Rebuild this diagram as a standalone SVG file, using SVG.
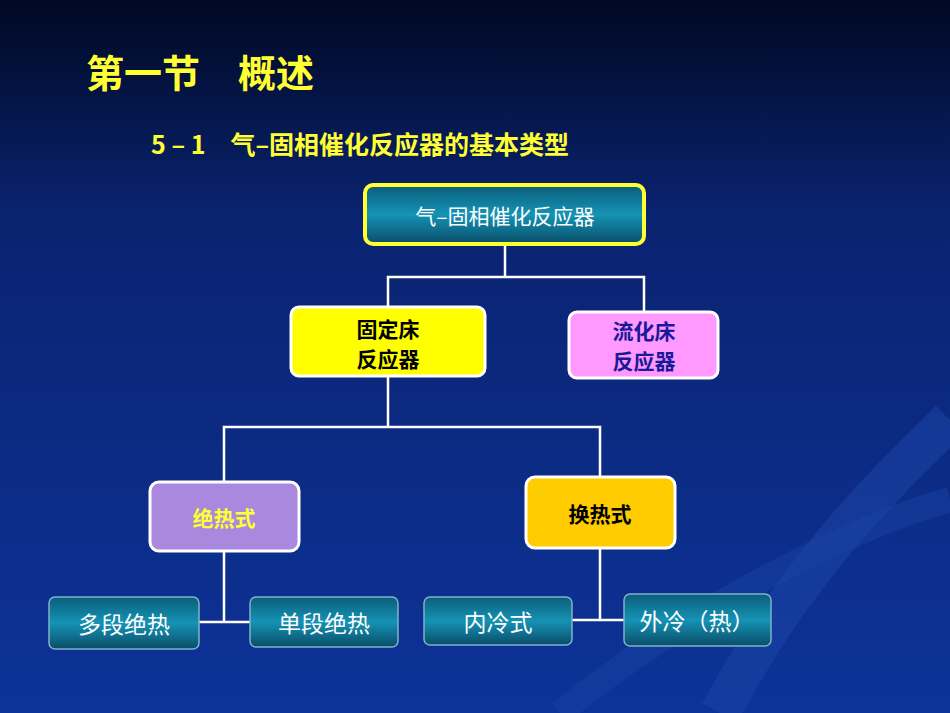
<svg xmlns="http://www.w3.org/2000/svg" width="950" height="713" viewBox="0 0 950 713">
<defs>
<linearGradient id="bg" x1="0" y1="0" x2="0" y2="1">
<stop offset="0" stop-color="#000822"/><stop offset="0.3" stop-color="#0a2370"/><stop offset="1" stop-color="#0d3399"/>
</linearGradient>
<linearGradient id="teal" x1="0" y1="0" x2="0" y2="1">
<stop offset="0" stop-color="#0b5d7a"/><stop offset="0.5" stop-color="#1593b5"/><stop offset="1" stop-color="#0a4d68"/>
</linearGradient>
<style>
.t{font-family:"Noto Sans CJK SC","Noto Sans",sans-serif;text-anchor:middle;dominant-baseline:central}
.b{font-weight:bold}
.teal{fill:url(#teal);stroke:#7fb3c8;stroke-width:1.5}
.c{fill:none;stroke:#fff;stroke-width:2.5}
</style>
</defs>
<rect width="950" height="713" fill="url(#bg)"/>
<path d="M720 713 C800 560 900 470 950 420" fill="none" stroke="#1c45a8" stroke-width="40" opacity="0.5"/>
<path d="M560 713 C700 600 870 520 950 500" fill="none" stroke="#1c45a8" stroke-width="25" opacity="0.4"/>
<text class="t b" x="200" y="70" font-size="38" fill="#ffff33">第一节　概述</text>
<text class="t b" x="360" y="143" font-size="25" fill="#ffff33">5 – 1　气–固相催化反应器的基本类型</text>
<g id="connectors" class="c">
<path d="M505 244 V277 H388 V307 M505 277 H644 V312"/>
<path d="M388 376 V427 H224 V482 M388 427 H600 V477"/>
<path d="M224 552 V622 H199 M224 622 H250"/>
<path d="M600 548 V620 H572 M600 620 H624"/>
</g>
<g id="n0"><rect x="365" y="185" width="279" height="59" rx="8" fill="url(#teal)" stroke="#ffff33" stroke-width="4"/><text class="t" x="505" y="215" font-size="21" fill="#fff">气–固相催化反应器</text></g>
<g id="n1"><rect x="291" y="307" width="194" height="69" rx="8" fill="#ffff00" stroke="#fff" stroke-width="3"/><text class="t b" x="388" y="328" font-size="21" fill="#000">固定床</text><text class="t b" x="388" y="358" font-size="21" fill="#000">反应器</text></g>
<g id="n2"><rect x="569" y="312" width="149" height="66" rx="8" fill="#ff99ff" stroke="#fff" stroke-width="3"/><text class="t b" x="644" y="330" font-size="21" fill="#1a1a99">流化床</text><text class="t b" x="644" y="360" font-size="21" fill="#1a1a99">反应器</text></g>
<g id="n3"><rect x="150" y="482" width="149" height="69" rx="9" fill="#aa88dd" stroke="#fff" stroke-width="3"/><text class="t b" x="224" y="517" font-size="21" fill="#ffff33">绝热式</text></g>
<g id="n4"><rect x="526" y="477" width="149" height="71" rx="9" fill="#ffcc00" stroke="#fff" stroke-width="3"/><text class="t b" x="600" y="513" font-size="21" fill="#000">换热式</text></g>
<g id="n5"><rect class="teal" x="49" y="597" width="150" height="52" rx="6"/><text class="t" x="124" y="623" font-size="23" fill="#fff">多段绝热</text></g>
<g id="n6"><rect class="teal" x="250" y="597" width="148" height="50" rx="6"/><text class="t" x="324" y="622" font-size="23" fill="#fff">单段绝热</text></g>
<g id="n7"><rect class="teal" x="424" y="597" width="148" height="48" rx="6"/><text class="t" x="498" y="621" font-size="23" fill="#fff">内冷式</text></g>
<g id="n8"><rect class="teal" x="624" y="594" width="147" height="52" rx="6"/><text class="t" x="697" y="620" font-size="23" fill="#fff">外冷（热）</text></g>
</svg>
